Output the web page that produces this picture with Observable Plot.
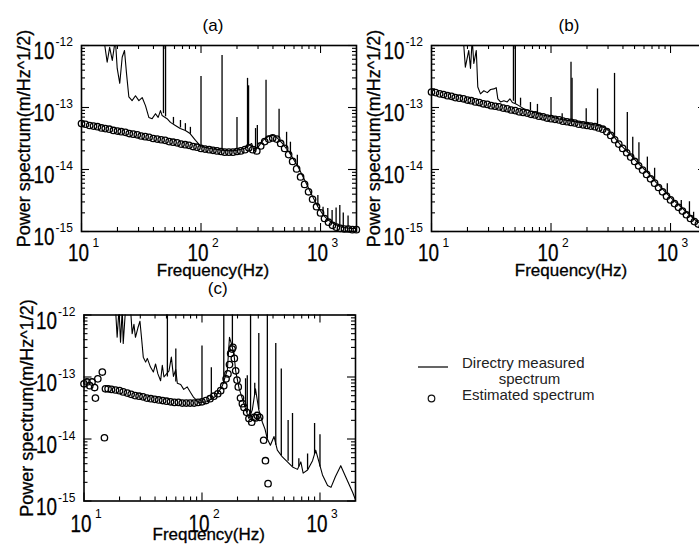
<!DOCTYPE html>
<html><head><meta charset="utf-8">
<script src="https://cdn.jsdelivr.net/npm/d3@7"></script>
<script src="https://cdn.jsdelivr.net/npm/@observablehq/plot@0.6"></script>
<style>
html,body{margin:0;padding:0;background:#fff;}
body{width:699px;height:544px;overflow:hidden;position:relative;font-family:'Liberation Sans',Arial,Helvetica,sans-serif;}
.pan{position:absolute;}
#legend{position:absolute;left:0;top:0;width:699px;height:544px;pointer-events:none;}
</style></head><body>
<div id="pa" class="pan" style="left:0;top:0;width:360px;height:272px"></div>
<div id="pb" class="pan" style="left:350px;top:0;width:360px;height:272px"></div>
<div id="pc" class="pan" style="left:0;top:272px;width:360px;height:272px"></div>
<svg id="legend" width="699" height="544" font-family="'Liberation Sans',Arial,Helvetica,sans-serif">
  <line x1="418" x2="448" y1="367" y2="367" stroke="#111" stroke-width="1.3"/>
  <text x="462" y="368" font-size="15" fill="#222">Directry measured</text>
  <text x="529.5" y="384" font-size="15" fill="#222" text-anchor="middle">spectrum</text>
  <circle cx="431.5" cy="398.5" r="3.3" fill="none" stroke="#111" stroke-width="1.2"/>
  <text x="462" y="400" font-size="15" fill="#222">Estimated spectrum</text>
</svg>
<script>
// ---------- axis ticks ----------
const xTickValues = [10, 100, 1000];
const xTickExponents = ["1", "2", "3"];
const yTickValues = [1e-15, 1e-14, 1e-13, 1e-12];
const yTickExponents = ["-15", "-14", "-13", "-12"];
const xMinorTicks = [20,30,40,50,60,70,80,90,200,300,400,500,600,700,800,900];
const yMinorTicks = [2e-15,3e-15,4e-15,5e-15,6e-15,7e-15,8e-15,9e-15,2e-14,3e-14,4e-14,5e-14,6e-14,7e-14,8e-14,9e-14,2e-13,3e-13,4e-13,5e-13,6e-13,7e-13,8e-13,9e-13];

// ---------- estimated spectrum (circles); values are log10 of m/Hz^1/2 ----------
const freqGrid = [10,10.8,11.7,12.6,13.6,14.7,15.8,17.1,18.5,20,21.5,23.3,25.1,27.1,29.3,31.6,34.1,36.8,39.8,43,46.4,50.1,54.1,58.4,63.1,68.1,73.6,79.4,85.8,92.6,100,108,117,126,136,147,158,171,185,200,215,233,251,271,293,316,341,369,398,430,464,501,541,584,631,681,736,794,858,926,1000,1080,1166,1259,1359,1468,1585,1711,1848,1995];
const estimatedA = [-13.26,-13.27,-13.29,-13.30,-13.31,-13.33,-13.34,-13.35,-13.37,-13.38,
 -13.39,-13.40,-13.42,-13.43,-13.44,-13.46,-13.47,-13.48,-13.50,-13.51,
 -13.52,-13.53,-13.55,-13.56,-13.57,-13.59,-13.60,-13.61,-13.63,-13.64,
 -13.66,-13.67,-13.68,-13.69,-13.70,-13.71,-13.72,-13.72,-13.72,-13.71,
 -13.70,-13.68,-13.65,-13.68,-13.70,-13.62,-13.55,-13.51,-13.49,-13.51,
 -13.58,-13.66,-13.76,-13.87,-13.99,-14.12,-14.24,-14.36,-14.48,-14.60,
 -14.70,-14.79,-14.85,-14.90,-14.93,-14.95,-14.96,-14.96,-14.97,-14.97];
const estimatedB = [-12.75,-12.76,-12.78,-12.79,-12.81,-12.82,-12.84,-12.85,-12.86,-12.88,
 -12.89,-12.91,-12.92,-12.94,-12.95,-12.97,-12.98,-12.99,-13.01,-13.02,
 -13.04,-13.05,-13.07,-13.08,-13.09,-13.11,-13.12,-13.14,-13.15,-13.17,
 -13.18,-13.19,-13.20,-13.22,-13.23,-13.24,-13.25,-13.27,-13.28,-13.29,
 -13.30,-13.31,-13.33,-13.35,-13.39,-13.45,-13.52,-13.59,-13.66,-13.73,
 -13.80,-13.87,-13.94,-14.01,-14.08,-14.15,-14.22,-14.29,-14.36,-14.43,
 -14.49,-14.55,-14.61,-14.67,-14.73,-14.79,-14.84,-14.88,-14.92,-14.95];
const freqC = [10,10.6,11.2,11.7,12.3,12.5,13.1,14.3,14.9,15.2,
 16,17.1,18.5,20,21.5,23.3,25.1,27.1,29.3,31.6,34.1,36.8,39.8,43,46.4,50.1,54.1,58.4,63.1,68.1,
 73.6,79.4,85.8,92.6,100,108,117,126,136,144,153,160,166,171,175,180,183,188,193,198,
 203,212,220,227,239,250,264,276,285,294,308,333,345,363];
const estimatedC = [-13.11,-13.08,-13.14,-13.08,-13.17,-13.34,-13.03,-12.92,-13.98,-13.19,
 -13.19,-13.20,-13.21,-13.22,-13.24,-13.26,-13.28,-13.30,-13.31,-13.32,-13.34,-13.35,-13.36,-13.37,-13.38,-13.39,-13.40,-13.41,-13.41,-13.42,
 -13.42,-13.42,-13.42,-13.41,-13.40,-13.38,-13.35,-13.31,-13.27,-13.22,-13.14,-13.03,-12.95,-12.80,-12.62,-12.55,-12.52,-12.70,-12.90,-13.05,
 -13.16,-13.34,-13.43,-13.49,-13.57,-13.67,-13.73,-13.65,-13.66,-13.62,-13.65,-14.02,-14.35,-14.72];

// ---------- directly measured spectrum: [Hz, log10] ----------
const measuredA = [[10,-11.5],[14,-11.6],[15.4,-11.9],[16.4,-12.27],[17.2,-12.03],[18.1,-12.24],[19.2,-11.9],[19.9,-12.37],[20.9,-12.61],[21.9,-12.19],[22.9,-12.08],[23.8,-12.45],[24.9,-12.83],[26.5,-12.89],[28.3,-12.81],[30.2,-12.89],[32.2,-12.84],[34.3,-12.97],[36.6,-13.16],[39,-13.18],[41.6,-13.1],[43.8,-13.16],[45.8,-13.05],[47.3,-13.13],[52,-13.18],[55.5,-13.24],[61,-13.29],[67,-13.34],[74,-13.37],[81,-13.42],[90,-13.53],[100,-13.63],[120,-13.66],[150,-13.69],[180,-13.70],[200,-13.69],[230,-13.66],[250,-13.62],[265,-13.58],[280,-13.70],[300,-13.64],[330,-13.53],[370,-13.46],[400,-13.45],[430,-13.48],[480,-13.58],[550,-13.73],[650,-13.96],[750,-14.2],[850,-14.42],[950,-14.6],[1050,-14.73],[1150,-14.81],[1300,-14.88],[1450,-14.92],[1600,-14.94],[1800,-14.95],[2000,-14.95]];
const measuredB = [[10,-11.5],[18,-11.6],[19.2,-12.35],[20.5,-12.08],[21.2,-12.37],[21.9,-11.9],[22.6,-12.29],[23.7,-12.08],[24.4,-12.67],[25.7,-12.78],[27.4,-12.73],[29.3,-12.76],[31.2,-12.71],[33.2,-12.70],[34.8,-12.68],[35.9,-12.86],[37.8,-12.91],[40.3,-12.89],[43,-12.91],[45.3,-12.86],[47.5,-12.92],[50.5,-12.94],[53.8,-12.97],[59.1,-13.02],[65,-13.05],[75,-13.09],[85,-13.12],[100,-13.15],[120,-13.19],[150,-13.22],[200,-13.26],[250,-13.29],[290,-13.34],[320,-13.42],[380,-13.6],[450,-13.74],[550,-13.92],[650,-14.06],[750,-14.2],[850,-14.31],[1000,-14.45],[1200,-14.59],[1400,-14.71],[1600,-14.81],[1800,-14.88],[2000,-14.93]];
const measuredC = [[10,-11.5],[18,-11.6],[18.5,-11.9],[19.1,-12.36],[19.8,-11.9],[20.4,-12.44],[21.1,-11.9],[21.5,-12.46],[22.5,-11.9],[24.8,-11.9],[25.6,-12.30],[26.5,-12.15],[27.3,-12.36],[28.6,-12.21],[29.8,-12.10],[30.7,-12.36],[31.8,-12.68],[33.3,-12.76],[34.4,-12.70],[36.6,-12.84],[38.7,-12.92],[40.4,-12.79],[42.3,-12.95],[44.6,-13.06],[46.1,-12.81],[47.6,-13.00],[52.5,-12.90],[55,-12.68],[57.3,-12.99],[59.9,-12.88],[61.8,-13.10],[66,-13.12],[70,-13.2],[75,-13.16],[80,-13.25],[85,-13.33],[94,-13.41],[110,-13.40],[131,-13.31],[149,-13.14],[164,-12.89],[171,-12.36],[178,-12.47],[187,-12.64],[193,-12.90],[206,-13.18],[219,-13.34],[232,-13.49],[242,-13.60],[250,-13.67],[267,-13.53],[284,-13.19],[303,-13.53],[325,-13.73],[342,-13.84],[358,-14.00],[380,-14.10],[408,-13.96],[435,-14.18],[480,-14.29],[530,-14.37],[585,-14.45],[645,-14.49],[688,-14.37],[720,-14.55],[785,-14.50],[865,-14.35],[920,-14.18],[980,-14.37],[1050,-14.58],[1160,-14.75],[1240,-14.78],[1350,-14.61],[1500,-14.43],[1650,-14.61],[1890,-14.86],[2000,-14.98]];

// ---------- narrow peaks of the measured spectrum: [Hz, base log10, peak log10] ----------
const peaksA = [[48.5,-13.1,-11.5],[50.5,-13.15,-11.5],[58.8,-13.27,-13.16],[67.3,-13.33,-13.21],[74,-13.37,-13.26],[81.5,-13.43,-13.32],[100,-13.63,-12.5],[150,-13.69,-12.16],[200,-13.69,-13.16],[245,-13.63,-12.53],[250,-13.62,-12.65],[286,-13.68,-13.34],[296,-13.65,-13.29],[350,-13.5,-12.56],[450,-13.5,-13.03],[520,-13.66,-13.4],[560,-13.76,-13.56],[640,-13.94,-13.77],[950,-14.6,-14.42],[1050,-14.73,-14.61],[1150,-14.81,-14.63],[1250,-14.86,-14.66],[1350,-14.9,-14.62],[1450,-14.92,-14.58],[1550,-14.93,-14.7],[1700,-14.94,-14.75]];
const peaksB = [[48.5,-12.9,-11.5],[50.3,-12.94,-11.5],[55.6,-12.98,-12.85],[67.3,-13.05,-12.92],[77,-13.1,-12.95],[100,-13.15,-12.84],[124,-13.19,-13.1],[147,-13.22,-12.27],[150,-13.22,-12.53],[197,-13.26,-13.02],[245,-13.29,-12.7],[340,-13.47,-12.45],[435,-13.73,-13.08],[483,-13.82,-13.48],[544,-13.92,-13.57],[640,-14.06,-13.8],[736,-14.19,-13.98],[940,-14.41,-14.23],[1230,-14.61,-14.5],[1440,-14.73,-14.52],[1560,-14.79,-14.69]];
const peaksC = [[50.9,-13.0,-11.5],[60,-13.08,-12.55],[100,-13.40,-12.5],[120,-13.37,-12.85],[153,-13.12,-11.5],[181,-12.5,-11.5],[234,-13.49,-13.03],[242,-13.58,-12.98],[258,-13.6,-11.5],[280,-13.3,-13.1],[303,-13.53,-12.3],[358,-14.0,-11.5],[422,-14.1,-12.46],[470,-14.27,-12.87],[537,-14.36,-13.70],[585,-14.45,-13.59],[662,-14.45,-14.32],[785,-14.5,-14.24],[900,-14.25,-13.75],[1000,-14.45,-13.93]];

const FONT = "'Liberation Sans', Arial, Helvetica, sans-serif";

// narrow the big "10" tick labels (the original uses a condensed face)
function condense(svg, w) {
  svg.querySelectorAll("text").forEach(t => {
    if (t.textContent === "10") {
      t.setAttribute("textLength", w);
      t.setAttribute("lengthAdjust", "spacingAndGlyphs");
    }
  });
}

function drawPanel(cfg) {
  const pw = cfg.W - cfg.ML - cfg.MR, ph = cfg.H - cfg.MT - cfg.MB;
  const line = cfg.measured.map(([f, e]) => ({f, v: 10 ** e}));
  const peaks = cfg.peaks.map(([f, b, p]) => ({f, b: 10 ** b, p: 10 ** p}));
  const est = cfg.estF.map((f, i) => ({f, v: 10 ** cfg.estE[i]}));
  const xt = xTickValues.map((v, i) => ({v, e: xTickExponents[i], y0: 1e-15}));
  const yt = yTickValues.map((v, i) => ({v, e: yTickExponents[i], x0: 10}));
  const K = {stroke: "black", strokeWidth: 1.1};
  const B = {fill: "black", stroke: "black", strokeWidth: 0.3};
  const svg = Plot.plot({
    width: cfg.W, height: cfg.H,
    marginLeft: cfg.ML, marginRight: cfg.MR, marginTop: cfg.MT, marginBottom: cfg.MB,
    x: {type: "log", domain: [10, 2000], axis: null},
    y: {type: "log", domain: [1e-15, 1e-12], axis: null},
    style: {background: "transparent", overflow: "visible", fontFamily: FONT, color: "black"},
    marks: [
      Plot.line(line, {x: "f", y: "v", stroke: "black", strokeWidth: 1.1, clip: true}),
      Plot.ruleX(peaks, {x: "f", y1: "b", y2: "p", stroke: "black", strokeWidth: 1.3, clip: true}),
      Plot.dot(est, {x: "f", y: "v", r: 3.2, stroke: "black", strokeWidth: 1.3, fill: "none"}),
      Plot.tickX(xTickValues, {x: d => d, insetTop: ph - 8, ...K}),
      Plot.tickX(xMinorTicks, {x: d => d, insetTop: ph - 4, ...K}),
      Plot.tickX(xTickValues, {x: d => d, insetBottom: ph - 8, ...K}),
      Plot.tickX(xMinorTicks, {x: d => d, insetBottom: ph - 4, ...K}),
      Plot.tickY(yTickValues, {y: d => d, insetRight: pw - 8, ...K}),
      Plot.tickY(yMinorTicks, {y: d => d, insetRight: pw - 4, ...K}),
      Plot.tickY(yTickValues, {y: d => d, insetLeft: pw - 8, ...K}),
      Plot.tickY(yMinorTicks, {y: d => d, insetLeft: pw - 4, ...K}),
      Plot.frame({stroke: "black", strokeWidth: 1.6}),
      Plot.text(xt, {x: "v", y: "y0", dy: cfg.xLabDy, dx: -3, text: () => "10", fontSize: 24, textAnchor: "middle", ...B}),
      Plot.text(xt, {x: "v", y: "y0", dy: cfg.xLabDy - 10, dx: 11, text: "e", fontSize: 12, textAnchor: "start", fill: "black"}),
      Plot.text(yt, {x: "x0", y: "v", dx: -27, dy: 6, text: () => "10", fontSize: 24, textAnchor: "end", ...B}),
      Plot.text(yt, {x: "x0", y: "v", dx: -26, dy: -3, text: "e", fontSize: 12, textAnchor: "start", fill: "black"}),
      Plot.text([cfg.title], {frameAnchor: "top", dy: cfg.titleDy, dx: cfg.titleDx, text: d => d, fontSize: 17, textAnchor: "middle", lineAnchor: "middle", fill: "black"}),
      Plot.text(["Frequency(Hz)"], {frameAnchor: "bottom", dy: cfg.freqDy, dx: cfg.freqDx, text: d => d, fontSize: 17, textAnchor: "middle", lineAnchor: "middle", ...B}),
      Plot.text(["Power spectrum(m/Hz^1/2)"], {frameAnchor: "left", dx: -57, rotate: -90, text: d => d, fontSize: 18, textAnchor: "middle", lineAnchor: "middle", ...B})
    ]
  });
  condense(svg, 21);
  document.getElementById(cfg.id).appendChild(svg);
}

drawPanel({id: "pa", W: 360, H: 272, ML: 81, MR: 4, MT: 45, MB: 41,
  measured: measuredA, peaks: peaksA, estF: freqGrid, estE: estimatedA,
  title: "(a)", titleDy: -20, titleDx: -6, freqDy: 39, freqDx: -6, xLabDy: 22});
drawPanel({id: "pb", W: 360, H: 272, ML: 81, MR: 4, MT: 45, MB: 41,
  measured: measuredB, peaks: peaksB, estF: freqGrid, estE: estimatedB,
  title: "(b)", titleDy: -20, titleDx: 0, freqDy: 39, freqDx: 2, xLabDy: 22});
drawPanel({id: "pc", W: 360, H: 272, ML: 83.5, MR: 5, MT: 42.5, MB: 43.5,
  measured: measuredC, peaks: peaksC, estF: freqC, estE: estimatedC,
  title: "(c)", titleDy: -26, titleDx: -2, freqDy: 34, freqDx: -11, xLabDy: 23});
</script>
</body></html>
